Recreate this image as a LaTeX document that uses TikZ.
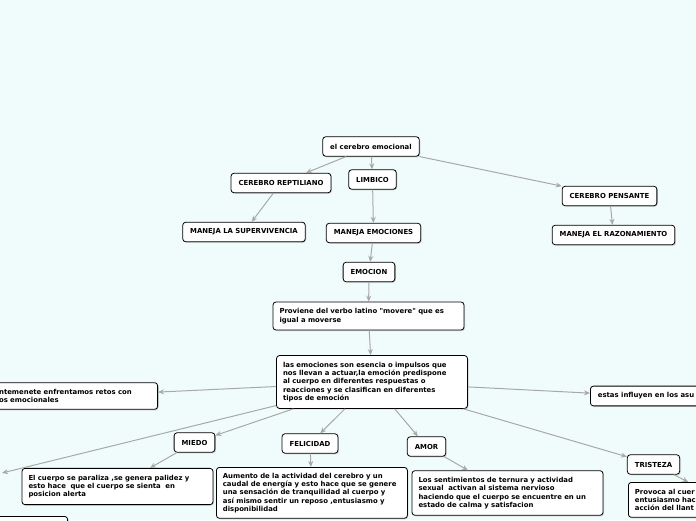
\documentclass[tikz,border=0pt]{standalone}
\usepackage{fontspec}
\setmainfont{DejaVu Sans}
\usetikzlibrary{positioning,arrows.meta,shadows}
\definecolor{mapbg}{RGB}{240,252,252}
\definecolor{linkgray}{RGB}{168,168,168}
\tikzset{
    >=Stealth,
    box/.style={draw,rounded corners=3pt,fill=white,line width=0.8pt,
                font=\bfseries\fontsize{6.9}{8.3}\selectfont,
                inner xsep=7.5pt,inner ysep=6.5pt,minimum height=19.5pt,
                drop shadow={shadow xshift=1pt,shadow yshift=-1pt,opacity=.35}},
    textbox/.style={box,text width=178pt,inner xsep=6.5pt,align=left},
    link/.style={draw=linkgray,line width=1pt,-{Stealth[length=6pt,width=5pt]}}
}

\begin{document}
\begin{tikzpicture}[x=1pt,y=-1pt]

\useasboundingbox (0,0) rectangle (696,520);
\clip (0,0) rectangle (696,520);
\fill[mapbg] (0,0) rectangle (696,520);

% Nodes
\node[box] (root) at (371,146.5) {el cerebro emocional};
\node[box] (rept) at (281,183) {CEREBRO REPTILIANO};
\node[box] (limb) at (372.5,179.5) {LIMBICO};
\node[box] (pens) at (609.5,196) {CEREBRO PENSANTE};
\node[box] (superv) at (244,232) {MANEJA LA SUPERVIVENCIA};
\node[box] (memoc) at (373.5,233) {MANEJA EMOCIONES};
\node[box] (razon) at (613.5,235) {MANEJA EL RAZONAMIENTO};
\node[box] (emoc) at (369,272) {EMOCION};
\node[textbox] (prov) at (368.5,316) {Proviene del verbo latino \textquotedbl movere\textquotedbl{} que es\\igual a moverse};
\node[textbox] (esen) at (372,382) {las emociones son esencia o impulsos que\\nos llevan a actuar,la emoción predispone\\al cuerpo en diferentes respuestas o\\reacciones y se clasifican en diferentes\\tipos de emoción};
\node[box,text width=151pt,align=left,anchor=east] (retos) at (158,396) {ntemenete enfrentamos retos con\\os emocionales};
\node[box,anchor=west] (asun) at (590,396) {estas influyen en los asu};
\node[box] (miedo) at (194.5,442.5) {MIEDO};
\node[box] (felic) at (310,443.5) {FELICIDAD};
\node[box] (amor) at (426.5,446.5) {AMOR};
\node[box] (trist) at (653.5,464.5) {TRISTEZA};
\node[textbox] (paral) at (117.5,486.5) {El cuerpo se paraliza ,se genera palidez y\\esto hace\ \ que el cuerpo se sienta\ \ en\\posicion alerta};
\node[textbox,anchor=north west,inner ysep=5.5pt] (aument) at (216,467) {Aumento de la actividad del cerebro y un\\caudal de energía y esto hace que se genere\\una sensación de tranquilidad al cuerpo y\\así mismo sentir un reposo ,entusiasmo y\\disponibilidad};
\node[textbox] (sentim) at (507.5,493) {Los sentimientos de ternura y actividad\\sexual\ \ activan al sistema nervioso\\haciendo que el cuerpo se encuentre en un\\estado de calma y satisfacion};
\node[textbox,anchor=north west] (provoca) at (628,482) {Provoca al cuer\\entusiasmo hac\\acción del llant};
\node[box,anchor=north east,minimum width=100pt,minimum height=30pt] (hidden) at (68,516) {};
\coordinate (offl) at (2,473);

% Links
\path[link] (root) -- (rept);
\path[link] (root) -- (limb);
\path[link] (root) -- (pens);
\path[link] (rept) -- (superv);
\path[link] (limb) -- (memoc);
\path[link] (pens) -- (razon);
\path[link] (memoc) -- (emoc);
\path[link] (emoc) -- (prov);
\path[link] (prov) -- (esen);
\path[link] (esen) -- (retos);
\path[link] (esen) -- (asun);
\path[link] (esen) -- (offl);
\path[link] (esen) -- (miedo);
\path[link] (esen) -- (felic);
\path[link] (esen) -- (amor);
\path[link] (esen) -- (trist);
\path[link] (miedo) -- (paral);
\path[link] (felic) -- (aument);
\path[link] (amor) -- (sentim);
\path[link] (trist) -- (provoca);

\end{tikzpicture}
\end{document}
